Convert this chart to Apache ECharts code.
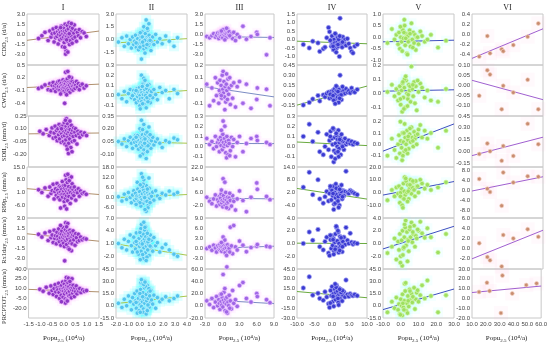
<!DOCTYPE html>
<html><head><meta charset="utf-8">
<script src="https://cdn.jsdelivr.net/npm/echarts@6/dist/echarts.min.js"></script>
<style>html,body{margin:0;padding:0;background:#fff}#c{width:550px;height:344px}</style>
</head><body><div id="c"></div>
<script>
// ---------------- DATA ----------------
const colNames = ['I','II','III','IV','V','VI'];
const rowNames = ['CDD','CWD','SDII','R99p','Rx1day','PRCPTOT'];
const rowUnits = ['(d/a)','(d/a)','(mm/d)','(mm/a)','(mm/a)','(mm/a)'];

// Column I
const I_x = [-1.02,-0.88,-0.75,-0.62,-0.55,-0.5,-0.45,-0.41,-0.37,-0.34,
 -0.31,-0.28,-0.25,-0.22,-0.2,-0.18,-0.15,-0.13,-0.11,-0.09,
 -0.07,-0.05,-0.03,-0.02,0.0,0.02,0.03,0.05,0.06,0.08,
 0.09,0.1,0.12,0.13,0.15,0.16,0.18,0.19,0.21,0.22,
 0.24,0.25,0.27,0.29,0.3,0.32,0.34,0.36,0.38,0.4,
 0.42,0.45,0.47,0.5,0.53,0.56,0.6,0.64,0.68,0.73,
 0.8,0.88,0.97,0.11,0.2,0.07,-0.1,0.35,0.15,0.26];
const I_CDD = [-0.6,-0.2,0.3,-0.9,0.5,-0.4,0.1,0.8,-1.1,0.2,
 -0.5,1.0,-0.3,0.4,-1.4,0.0,0.7,-0.8,0.3,-0.2,
 1.2,-0.6,0.5,-1.8,0.1,-0.4,0.9,-1.2,0.4,-0.1,
 1.5,-0.7,0.2,-2.4,0.6,-0.3,1.3,-1.0,0.0,0.8,
 -0.5,1.7,-1.5,0.3,-0.9,1.1,-0.2,0.5,-1.3,0.9,
 -0.6,0.2,1.4,-0.4,0.6,-1.0,0.3,-0.2,0.7,-0.5,
 0.4,0.2,-0.3,-2.9,-2.6,-1.9,1.0,1.6,-0.8,0.1];
const I_CWD = [-0.05,-0.02,0.03,-0.08,0.06,-0.1,0.02,0.09,-0.06,0.01,
 -0.12,0.05,-0.03,0.1,-0.07,0.0,0.12,-0.09,0.04,-0.01,
 0.07,-0.13,0.02,-0.05,0.15,-0.02,0.08,-0.11,0.03,0.11,
 -0.04,0.06,-0.15,0.13,0.0,-0.08,0.17,0.04,-0.06,0.09,
 -0.1,0.05,0.02,-0.14,0.1,-0.03,0.07,-0.07,0.12,0.01,
 -0.09,0.04,0.08,-0.05,0.03,0.11,-0.02,0.06,-0.08,0.02,
 0.05,-0.04,0.01,0.33,0.35,-0.4,-0.18,0.2,-0.2,0.22];
const I_SDII = [0.07,0.04,0.09,0.02,0.06,0.11,-0.01,0.05,0.13,0.0,
 0.08,-0.04,0.1,0.03,0.15,-0.02,0.06,0.12,-0.06,0.04,
 0.09,0.01,0.14,-0.05,0.07,0.17,0.02,-0.08,0.11,0.05,
 -0.03,0.13,0.08,-0.1,0.04,0.16,0.0,0.1,-0.07,0.06,
 0.12,-0.02,0.09,0.03,-0.12,0.14,0.05,-0.05,0.08,0.01,
 0.11,-0.04,0.06,0.1,0.02,-0.08,0.07,0.04,0.0,0.06,
 0.03,0.05,0.02,0.22,-0.19,0.2,0.1,-0.17,-0.14,0.19];
const I_R99p = [2.5,1.0,3.5,-1.0,4.0,0.5,2.0,5.5,-2.5,1.5,
 3.0,-0.5,6.0,2.2,-1.8,0.8,4.5,-3.0,1.2,3.8,
 -0.2,2.8,7.0,-1.5,0.3,4.8,1.8,-4.0,3.2,0.0,
 5.0,-2.2,2.5,8.0,-0.8,1.6,6.5,-3.5,3.0,0.6,
 4.2,-1.2,2.0,9.0,-5.0,1.0,3.6,-2.0,5.8,0.2,
 2.6,-0.6,4.0,1.4,-3.2,2.2,0.8,3.0,-1.0,1.8,
 0.5,1.0,0.0,10.5,11.0,-6.5,-7.5,9.5,-8.0,7.5];
const I_Rx1day = [0.6,0.2,0.8,-0.3,1.0,0.1,0.5,-0.6,1.2,0.0,
 0.4,-0.8,0.9,0.3,-0.2,1.4,-0.5,0.7,0.1,-1.0,
 0.6,1.1,-0.4,0.2,1.6,-0.7,0.5,0.0,-1.2,0.9,
 0.3,1.3,-0.3,0.7,-0.9,0.2,1.0,-0.1,0.6,-1.4,
 0.4,0.8,-0.6,1.2,0.0,-0.4,0.9,0.3,-0.8,0.5,
 1.1,-0.2,0.4,-1.0,0.7,0.1,-0.5,0.6,-0.3,0.2,
 -0.2,0.0,-0.1,2.3,2.2,-3.3,1.9,-1.8,1.7,-1.6];
const I_PRCPTOT = [9,6,12,3,14,7,1,10,16,5,
 -2,11,8,18,4,-5,13,9,0,15,
 7,20,-3,10,6,17,2,12,-6,8,
 22,5,14,-8,11,3,19,9,-1,13,
 6,24,0,10,16,-4,8,12,3,15,
 7,-2,11,5,14,2,9,6,10,4,
 8,6,7,27,26,-12,-10,25,-9,21];

// Column II
const II_x = [-1.8,-1.5,-1.3,-1.1,-0.95,-0.8,-0.7,-0.6,-0.5,-0.42,
 -0.35,-0.28,-0.22,-0.16,-0.1,-0.05,0.0,0.04,0.08,0.12,
 0.16,0.2,0.24,0.28,0.32,0.36,0.4,0.44,0.48,0.52,
 0.56,0.6,0.64,0.68,0.72,0.76,0.8,0.85,0.9,0.95,
 1.0,1.1,1.2,1.35,1.5,1.7,1.9,2.2,2.5,2.9,
 3.2,0.1,0.3,0.5,0.7,-0.2,0.02,0.22,0.42,0.62,
 0.15,0.35,0.55,0.78,-0.3,0.05,0.45,0.25,0.65,0.88];
const II_CDD = [-0.3,0.2,-0.8,0.4,-0.5,0.0,-1.0,0.3,-0.6,-0.2,
 0.5,-0.9,-0.4,0.1,-1.2,-0.3,0.6,-0.7,-0.1,0.3,
 -0.5,0.9,-0.8,-0.2,0.4,-1.1,0.0,-0.6,0.7,-0.3,
 -0.9,0.2,-0.5,1.1,-0.1,-0.7,0.5,-0.4,0.1,-1.3,
 -0.2,0.3,-0.6,0.6,-0.3,0.1,-0.5,0.4,-0.2,-0.8,
 0.2,-0.4,-0.7,0.0,-0.2,-0.5,-0.9,0.3,-0.1,-0.6,
 -2.3,1.5,2.3,1.85,-0.4,0.8,-1.6,-0.3,1.3,-0.1];
const II_CWD = [0.01,-0.03,0.04,-0.06,0.02,0.06,-0.02,0.0,0.05,-0.04,
 0.03,-0.07,0.07,-0.01,0.02,-0.05,0.08,0.0,-0.03,0.05,
 -0.06,0.03,0.09,-0.02,0.01,-0.08,0.04,0.06,-0.04,0.02,
 -0.01,0.07,-0.05,0.03,0.1,-0.03,0.0,0.05,-0.07,0.02,
 0.04,-0.02,0.06,0.01,-0.04,0.08,0.03,0.05,-0.03,0.06,
 0.02,-0.09,0.12,0.0,-0.06,0.04,-0.1,0.09,0.14,-0.02,
 0.2,0.17,-0.12,0.11,0.05,-0.13,0.15,-0.08,0.1,0.0];
const II_SDII = [0.05,0.02,0.08,-0.01,0.06,0.1,0.03,-0.03,0.07,0.04,
 0.12,0.0,0.05,0.09,-0.04,0.06,0.02,0.11,0.04,-0.02,
 0.08,0.05,0.13,0.01,0.07,-0.05,0.1,0.03,0.06,0.15,
 0.0,0.08,0.04,-0.06,0.11,0.05,0.02,0.09,0.07,-0.03,
 0.06,0.1,0.01,0.05,0.08,0.03,-0.02,0.06,0.04,0.09,
 0.07,0.18,-0.09,0.14,0.0,0.12,0.2,-0.1,0.03,0.16,
 0.3,0.25,-0.15,0.22,0.1,-0.12,0.08,0.19,-0.07,0.13];
const II_R99p = [0.5,-2.0,2.0,-1.0,3.0,0.0,-3.0,1.5,4.0,-1.5,
 2.5,-0.5,1.0,5.0,-2.5,0.8,3.5,-4.0,1.2,0.0,
 6.0,-1.2,2.2,-3.5,4.5,0.5,-0.8,3.0,-2.0,1.8,
 7.0,-1.0,0.3,2.8,-4.5,1.5,5.5,-0.3,2.0,-2.8,
 0.8,3.2,-1.5,4.0,1.0,-0.5,2.5,1.5,3.8,2.0,
 3.0,-5.0,8.0,0.2,-6.0,9.0,-3.0,6.5,0.0,-2.2,
 14.0,10.5,-8.0,11.5,-4.0,7.5,-7.0,12.0,5.0,-3.0];
const II_Rx1day = [1.0,0.0,2.0,-0.5,1.5,3.0,0.5,-1.0,2.5,1.2,
 -0.3,3.5,0.8,1.8,-1.5,2.2,0.3,4.0,1.0,-0.8,
 2.8,0.6,1.5,-2.0,3.2,0.0,2.0,1.3,-1.2,2.6,
 0.4,3.8,1.1,-0.5,2.3,0.7,-1.8,1.6,3.0,0.2,
 1.8,-0.8,2.4,0.5,1.2,-1.0,0.0,0.8,-0.5,-1.5,
 -2.0,4.5,-2.5,5.0,1.4,-1.0,3.6,0.9,4.2,-2.2,
 5.5,6.0,-3.0,2.0,1.5,-2.8,4.8,-1.6,3.4,0.4];
const II_PRCPTOT = [3,-2,8,0,12,5,-5,10,2,15,
 6,-3,18,4,9,-6,13,1,20,7,
 -1,11,5,16,-4,8,22,3,10,-7,
 14,6,25,0,9,17,-2,12,4,19,
 7,2,13,-3,10,5,8,11,6,9,
 12,28,-8,24,1,-9,15,27,30,-5,
 32,26,-10,21,4,-8,29,11,-6,18];

// Column III
const III_x = [-2.7,-2.2,-1.8,-1.5,-1.2,-1.0,-0.8,-0.6,-0.5,-0.4,
 -0.3,-0.2,-0.1,0.0,0.1,0.2,0.3,0.4,0.5,0.6,
 0.7,0.8,0.9,1.0,1.1,1.2,1.4,1.6,1.8,2.0,
 2.3,2.6,3.0,3.6,4.2,5.0,6.0,6.1,7.7,8.3,
 0.15,0.45,0.75,-0.15,1.3];
const III_CDD = [-0.3,-0.5,-0.2,0.1,-0.4,-0.1,0.2,-0.6,0.0,0.3,
 -0.3,0.4,-0.1,0.2,-0.5,0.6,0.0,0.3,-0.2,0.5,
 0.1,-0.4,0.8,0.2,-0.1,0.4,-0.3,0.1,-0.6,0.3,
 -0.9,0.0,-0.4,1.2,-0.7,-0.3,0.3,0.0,-3.0,-0.5,
 0.7,-0.8,0.9,0.5,-0.2];
const III_CWD = [0.05,-0.12,0.02,-0.08,0.1,-0.04,0.06,-0.1,0.0,0.08,
 -0.03,0.04,-0.06,0.12,0.01,-0.02,0.07,-0.05,0.03,-0.09,
 0.05,0.0,-0.07,0.09,-0.03,0.02,-0.11,0.04,-0.06,0.06,
 -0.13,0.03,0.07,-0.1,0.05,-0.14,-0.07,0.02,0.01,-0.12,
 0.15,-0.15,0.13,-0.04,0.1];
const III_SDII = [0.08,0.02,0.05,-0.02,0.1,0.0,0.04,0.07,-0.05,0.03,
 0.09,0.01,0.06,-0.03,0.12,0.04,0.0,0.08,0.02,-0.06,
 0.05,0.1,0.01,-0.08,0.06,0.03,-0.04,0.09,0.0,0.07,
 -0.1,0.04,0.1,-0.05,0.03,0.08,0.1,0.06,0.04,0.02,
 0.25,0.2,-0.11,0.16,-0.09];
const III_R99p = [3.0,0.5,-1.0,2.0,4.5,-2.5,1.5,0.0,3.5,-1.5,
 2.5,5.0,-0.5,1.0,-3.0,4.0,0.5,2.0,-2.0,6.0,
 1.5,-1.0,3.0,0.0,-4.0,2.5,1.0,-2.5,4.0,0.5,
 -5.0,2.0,7.0,1.0,-6.0,3.0,12.0,8.0,3.5,1.5,
 14.6,12.5,-3.5,7.5,5.5];
const III_Rx1day = [0.0,0.5,-0.5,1.0,0.2,-1.0,0.8,0.3,-0.3,1.2,
 0.0,0.6,-0.8,0.4,1.5,-0.2,0.9,0.1,-1.2,0.7,
 0.3,-5.4,1.1,-0.6,0.4,0.0,6.3,0.8,-1.5,6.8,
 0.5,-0.4,2.2,1.0,-0.9,0.3,0.7,1.2,0.7,0.5,
 3.4,2.5,-2.0,1.8,-1.0];
const III_PRCPTOT = [8,2,12,-3,6,15,0,10,4,-6,
 18,7,1,13,-2,9,22,5,-8,11,
 3,14,-12,6,0,17,8,-5,25,4,
 10,-1,33,38,12,6,20,15,10,5,
 51,28,-10,19,-4];

// Column IV
const IV_x = [-8.2,-6.5,-5.5,-4.0,-3.5,-2.5,-2.0,-1.5,-1.0,-0.7,
 -0.4,-0.2,0.0,0.2,0.4,0.6,0.8,1.0,1.1,1.3,
 1.5,1.6,1.8,2.0,2.1,2.3,2.5,2.7,2.9,3.1,
 3.4,3.7,4.0,4.4,4.8,5.2,5.6,6.0,6.5,7.2,
 0.5,1.2,1.9,2.6,0.9,-0.5,3.0,1.7,2.2,0.3];
const IV_CDD = [-0.3,-0.5,-0.1,-0.2,-0.7,-0.55,-0.45,0.1,0.7,0.45,
 -0.1,-0.4,0.2,-0.3,-0.6,0.0,-0.2,0.3,-0.35,-0.5,
 -0.15,0.1,-0.4,-0.25,-1.0,1.25,-0.3,-0.1,-0.45,0.15,
 -0.2,0.0,-0.35,0.05,-0.25,-0.5,-0.7,-0.8,-0.4,-0.3,
 -0.6,-0.75,0.0,-0.2,0.35,-0.05,-0.15,-0.3,0.2,-0.4];
const IV_CWD = [-0.14,-0.1,-0.05,0.0,-0.08,0.01,-0.02,0.03,0.05,-0.04,
 0.02,0.06,-0.03,0.04,0.08,0.0,0.1,-0.05,0.03,0.07,
 0.12,-0.02,0.05,0.09,0.0,0.3,0.04,-0.06,0.06,0.02,
 0.08,0.03,0.1,0.05,0.07,0.04,0.11,0.06,0.05,0.09,
 -0.07,0.14,-0.1,0.01,-0.12,0.02,0.13,0.06,-0.04,0.0];
const IV_SDII = [0.1,0.22,0.05,0.14,-0.05,-0.08,0.0,0.12,-0.03,0.06,
 0.15,-0.1,0.08,0.02,0.17,-0.04,0.09,0.03,-0.06,0.11,
 0.0,0.07,0.16,-0.02,0.04,0.09,-0.08,0.12,0.01,0.05,
 -0.03,0.08,0.02,0.04,0.06,0.03,0.05,0.02,0.04,0.03,
 -0.15,0.13,-0.1,0.06,-0.12,0.1,0.0,-0.05,0.07,0.18];
const IV_R99p = [4.5,11.5,1.0,8.0,-1.0,-3.0,0.0,2.5,-2.0,1.5,
 4.0,-1.5,3.0,0.5,5.0,-3.5,2.0,-0.5,6.0,1.0,
 -2.5,3.5,0.0,4.5,-4.0,2.0,1.0,5.5,-1.0,3.0,
 0.5,2.5,12.0,2.0,1.5,3.0,2.5,2.0,1.5,1.0,
 -6.0,4.0,-5.0,2.5,-3.0,5.0,0.0,-2.0,3.5,1.5];
const IV_Rx1day = [0.0,1.8,0.5,2.2,-0.5,-1.0,0.3,1.0,-1.5,-1.9,
 0.6,-0.8,1.2,-0.3,0.8,-1.2,0.2,1.5,-0.6,2.5,
 0.4,-1.0,1.8,0.0,-0.7,1.1,-0.4,0.7,-1.3,0.3,
 1.0,-0.2,2.5,0.5,0.0,1.6,0.2,-0.1,0.1,0.0,
 -1.7,2.7,-1.4,0.9,-0.9,1.3,-0.5,2.0,-1.1,0.6];
const IV_PRCPTOT = [16,33,5,8,0,-3,10,2,-8,-14,
 12,4,18,-5,7,1,14,-2,9,20,
 3,11,-6,6,15,0,8,13,-4,5,
 10,2,28,6,3,7,5,4,6,4,
 -12,17,-10,9,22,-7,12,0,14,3];

// Column V
const V_x = [-7.5,-5.0,-3.5,-2.5,-1.5,-1.0,-0.5,0.0,0.5,1.0,
 1.5,2.0,2.5,3.0,3.5,4.0,4.5,5.0,5.5,6.0,
 6.5,7.0,7.5,8.0,8.5,9.0,10.0,11.0,12.0,13.5,
 15.0,17.0,21.0,25.5,0.8,2.2,3.8,5.2,1.2,4.2,
 6.8,-0.2,9.5,2.8,1.8];
const V_CDD = [-0.25,0.35,-0.1,0.1,-0.3,0.2,-0.5,0.0,-0.2,0.4,
 -0.05,0.75,-0.35,0.15,-0.7,0.05,-0.15,0.3,-0.4,0.6,
 -0.1,0.2,-0.25,0.1,-0.55,0.0,-0.3,0.25,0.05,-0.2,
 -0.1,0.1,-0.45,-0.15,-0.6,0.5,-0.75,0.15,0.3,-0.2,
 -0.45,0.45,0.0,-0.05,0.2];
const V_CWD = [0.01,0.06,-0.02,0.03,-0.05,0.0,0.05,-0.08,0.02,0.07,
 -0.03,0.04,-0.1,0.09,0.0,-0.04,0.06,0.02,-0.06,0.19,
 0.03,-0.02,0.08,-0.07,0.05,-0.12,0.01,0.07,0.04,-0.03,
 0.02,-0.05,-0.06,0.03,-0.13,0.1,-0.09,0.05,0.08,-0.01,
 0.06,-0.04,0.09,0.12,-0.11];
const V_SDII = [-0.1,0.05,-0.05,-0.12,0.0,0.08,-0.08,0.03,-0.03,0.1,
 0.02,-0.06,0.06,0.0,0.12,0.04,-0.04,0.09,0.02,0.15,
 0.06,-0.02,0.11,0.05,0.08,0.0,0.13,0.17,0.06,0.12,
 0.05,0.1,-0.03,0.12,-0.14,0.18,-0.08,0.14,-0.1,0.07,
 0.03,0.2,0.09,-0.05,0.1];
const V_R99p = [-6,2,-3,4,-1,5,-8,0,3,-4,
 7,1,-2,9,0,6,-5,3,10,-1,
 4,8,2,-3,9,5,0,10,7,3,
 6,2,4,8,-10,12,-7,6,-12,1,
 9,-3,5,11,-5];
const V_Rx1day = [-1.5,-0.5,0.8,-2.5,0.3,-1.0,1.5,-2.0,0.5,2.0,
 -0.8,1.0,2.5,-0.3,1.8,0.6,-1.2,2.2,1.0,3.3,
 0.2,1.5,2.8,-0.5,1.2,0.8,2.0,3.4,1.6,0.9,
 2.4,1.0,-1.4,1.5,-3.5,3.0,-2.8,2.6,-1.8,0.4,
 1.8,-3.0,2.2,3.6,-0.6];
const V_PRCPTOT = [-8,5,-3,10,-5,2,-10,8,0,14,
 -2,6,18,-6,3,12,-1,20,7,15,
 4,10,22,-4,8,16,5,13,25,9,
 31,12,-8,13,-12,27,-9,18,3,6,
 11,-11,19,28,-5];

// Column VI
const VI_x = [15.1,20.8,22.7,30.9,32.0,39.1,49.2,56.7];
const VI_CDD = [-0.435,-0.033,-0.37,-0.29,-0.33,-0.21,-0.045,0.215];
const VI_CWD = [-0.051,0.074,0.053,-0.117,-0.002,-0.035,0.028,-0.117];
const VI_SDII = [-0.035,0.10,0.0,-0.12,0.068,-0.059,0.35,0.09];
const VI_R99p = [4.4,0.5,-0.8,-6.3,7.0,3.0,5.5,5.3];
const VI_Rx1day = [1.06,-1.65,-2.3,-3.5,2.67,2.0,3.8,2.3];
const VI_PRCPTOT = [6.6,16,7.6,-15,23.3,5,13.6,15.3];

// Trend lines [x0, y0, x1, y1] per row
const I_trend = [[-1.5,-0.87,1.5,0.49],[-1.5,-0.03,1.5,0.05],[-1.5,0.04,1.5,0.05],[-1.5,3.1,1.5,-0.1],[-1.5,0.68,1.5,-0.41],[-1.5,8.8,1.5,5.0]];
const II_trend = [[-2,-0.4,4,0.1],[-2,0.0,4,0.05],[-2,0.05,4,0.03],[-2,0.0,4,1.8],[-2,0.9,4,-1.75],[-2,2.7,4,11.8]];
const III_trend = [[-3,-0.3,9,-0.45],[-3,0.03,9,-0.05],[-3,0.03,9,0.03],[-3,2.5,9,2.0],[-3,0.0,9,0.7],[-3,10,9,3.5]];
const IV_trend = [[-10,-0.1,10,-0.25],[-10,-0.14,10,0.14],[-10,0.045,10,0.01],[-10,3.9,10,-1.1],[-10,0.05,10,0.0],[-10,10.5,10,1.0]];
const V_trend = [[-10,-0.2,30,-0.13],[-10,0.015,30,0.025],[-10,-0.06,30,0.18],[-10,-2,30,8.6],[-10,-0.85,30,2.7],[-10,-4.7,30,20.5]];
const VI_trend = [[10,-0.47,60,0.11],[10,0.025,60,-0.07],[10,-0.055,60,0.18],[10,-0.4,60,5.3],[10,-2.0,60,3.6],[10,6,60,12.6]];

// X axes [min, max, interval]
const I_xAxis = [-1.5,1.5,0.5];
const II_xAxis = [-2,4,1];
const III_xAxis = [-3,9,3];
const IV_xAxis = [-10,10,5];
const V_xAxis = [-10,30,10];
const VI_xAxis = [10,60,10];

// Y axes: ranges, tick labels, decimals
const I_yRange = [[-4.5,3],[-0.7,0.5],[-0.35,0.25],[-13,15],[-4.5,3],[-35,40]];
const I_yTicks = [[3,1.5,0,-1.5,-3],[0.5,0.2,-0.1,-0.4],[0.25,0.1,-0.05,-0.2],[15,8,1,-6],[3,1.5,0,-1.5,-3],[40,25,10,-5,-20]];
const I_yDec = [1,1,2,1,1,1];
const II_yRange = [[-3,3],[-0.2,0.3],[-0.25,0.35],[-12,18],[-5,7],[-15,45]];
const II_yTicks = [[3,1.5,0,-1.5],[0.3,0.2,0.1,0,-0.1],[0.35,0.2,0.05,-0.1],[18,12,6,0,-6],[7,4,1,-2],[45,30,15,0,-15]];
const II_yDec = [1,1,2,1,1,1];
const III_yRange = [[-4.5,3],[-0.2,0.2],[-0.2,0.3],[-10,22],[-6,9],[-20,60]];
const III_yTicks = [[3,1.5,0,-1.5,-3],[0.2,0.1,0,-0.1],[0.3,0.2,0.1,0,-0.1],[22,14,6,-2],[9,6,3,0,-3],[60,40,20,0,-20]];
const III_yDec = [1,1,1,1,1,1];
const IV_yRange = [[-1.5,1.5],[-0.3,0.45],[-0.2,0.3],[-10,14],[-4,4],[-30,45]];
const IV_yTicks = [[1.5,1,0.5,0,-0.5,-1],[0.45,0.3,0.15,0,-0.15],[0.3,0.2,0.1,0,-0.1],[14,8,2,-4],[4,2,0,-2],[45,30,15,0,-15,-30]];
const IV_yDec = [1,2,1,1,1,1];
const V_yRange = [[-1.2,1.0],[-0.16,0.2],[-0.2,0.25],[-20,20],[-4,4],[-15,45]];
const V_yTicks = [[1,0.5,0,-0.5,-1],[0.2,0.1,0,-0.1],[0.2,0.1,0,-0.1],[20,10,0,-10],[4,2,0,-2],[45,30,15,0,-15]];
const V_yDec = [1,1,1,1,1,1];
const VI_yRange = [[-0.6,0.4],[-0.15,0.1],[-0.2,0.45],[-11.2,9.2],[-4,6],[-20,30]];
const VI_yTicks = [[0.4,0.2,0,-0.2,-0.4],[0.1,0.05,0,-0.05,-0.1],[0.45,0.3,0.15,0,-0.15],[8,4,0,-4,-8],[6,4,2,0,-2],[30,20,10,0,-10,-20]];
const VI_yDec = [1,2,2,1,1,1];

// ---------------- BUILD ----------------
const cols = [
 {x:I_x, ys:[I_CDD,I_CWD,I_SDII,I_R99p,I_Rx1day,I_PRCPTOT], trend:I_trend, xa:I_xAxis, yr:I_yRange, yt:I_yTicks, yd:I_yDec,
  sty:{color:'#8e36c6', border:'#e8b4fa', size:4.5, line:'#b0906e', bg:'#ff66ff', bgOp:0.06, bgSize:9}},
 {x:II_x, ys:[II_CDD,II_CWD,II_SDII,II_R99p,II_Rx1day,II_PRCPTOT], trend:II_trend, xa:II_xAxis, yr:II_yRange, yt:II_yTicks, yd:II_yDec,
  sty:{color:'#52c4ee', border:'#c4f6ff', size:4.5, line:'#a8c850', bg:'#00ffff', bgOp:0.12, bgSize:10}},
 {x:III_x, ys:[III_CDD,III_CWD,III_SDII,III_R99p,III_Rx1day,III_PRCPTOT], trend:III_trend, xa:III_xAxis, yr:III_yRange, yt:III_yTicks, yd:III_yDec,
  sty:{color:'#a066e6', border:'#e8c8ff', size:4.5, line:'#7c8cc4', bg:'#ff80ff', bgOp:0.06, bgSize:9}},
 {x:IV_x, ys:[IV_CDD,IV_CWD,IV_SDII,IV_R99p,IV_Rx1day,IV_PRCPTOT], trend:IV_trend, xa:IV_xAxis, yr:IV_yRange, yt:IV_yTicks, yd:IV_yDec,
  sty:{color:'#3b3bd2', border:'#a8a8f4', size:4.5, line:'#6aaa40', bg:null}},
 {x:V_x, ys:[V_CDD,V_CWD,V_SDII,V_R99p,V_Rx1day,V_PRCPTOT], trend:V_trend, xa:V_xAxis, yr:V_yRange, yt:V_yTicks, yd:V_yDec,
  sty:{color:'#9ee060', border:'#d8f8b8', size:4.5, line:'#3f4fc0', bg:'#80ffff', bgOp:0.09, bgSize:10}},
 {x:VI_x, ys:[VI_CDD,VI_CWD,VI_SDII,VI_R99p,VI_Rx1day,VI_PRCPTOT], trend:VI_trend, xa:VI_xAxis, yr:VI_yRange, yt:VI_yTicks, yd:VI_yDec,
  sty:{color:'#c98c70', border:'#f0d0c0', size:4, line:'#a060d0', bg:'#ffb0d0', bgOp:0.07, bgSize:14}}
];

const colLeft = [27,116,205,297,383,472];
const colWidth = [72,71,69,70,71,71];
const rowTop0 = 14, rowH = 51;
const serif = 'Liberation Serif';
const sans = 'Liberation Sans';
const yNamePad = [[0,0,0,0],[0,0,0,0],[0,0,0,0],[0,0,0,0],[0,0,0,6],[0,6,0,0]];

const grids=[], xAxes=[], yAxes=[], series=[], graphics=[];
const nameRich = {
  a:{fontFamily:serif, fontSize:6.5, color:'#222', lineHeight:9},
  b:{fontFamily:serif, fontSize:4.5, color:'#222', lineHeight:5, verticalAlign:'bottom'}
};
const xNameRich = {
  a:{fontFamily:serif, fontSize:7, color:'#222', lineHeight:10},
  b:{fontFamily:serif, fontSize:5, color:'#222', lineHeight:5, verticalAlign:'bottom'}
};

cols.forEach((c, ci) => {
  graphics.push({type:'text', x: colLeft[ci] + colWidth[ci]/2, y: 4,
    style:{text: colNames[ci], textAlign:'center', font: '8px "'+serif+'"', fill:'#222'}});
  for (let ri=0; ri<6; ri++) {
    const gi = grids.length;
    const bottom = ri===5;
    grids.push({left: colLeft[ci], top: rowTop0 + ri*rowH, width: colWidth[ci], height: rowH,
      show:true, borderColor:'#c8c8c8', borderWidth:1, backgroundColor:'rgba(0,0,0,0)', containLabel:false});
    xAxes.push({gridIndex: gi, type:'value', min: c.xa[0], max: c.xa[1], interval: c.xa[2],
      axisLine:{show:false}, axisTick:{show:false}, splitLine:{show:false},
      axisLabel:{show: bottom, fontFamily: sans, fontSize:6, color:'#444', margin:3, formatter: v => v.toFixed(1)},
      name: bottom ? '{a|Popu}{b|2.5}{a| (10⁴/a)}' : '', nameLocation:'middle', nameGap:15,
      nameTextStyle:{rich: xNameRich}});
    const dec = c.yd[ri];
    yAxes.push({gridIndex: gi, type:'value', min: c.yr[ri][0], max: c.yr[ri][1],
      axisLine:{show:false}, axisTick:{show:false}, splitLine:{show:false},
      axisLabel:{customValues: c.yt[ri], fontFamily: sans, fontSize:6, color:'#444', margin:2, formatter: v => v.toFixed(dec)},
      name: ci===0 ? '{a|'+rowNames[ri]+'}{b|2.5}{a| '+rowUnits[ri]+'}' : '',
      nameLocation:'middle', nameGap:18, nameRotate:90, nameTextStyle:{rich: nameRich, padding: yNamePad[ri]}});
    const data = c.x.map((x,i)=>[x, c.ys[ri][i]]);
    if (c.sty.bg) {
      series.push({type:'scatter', xAxisIndex:gi, yAxisIndex:gi, data, symbol:'rect', symbolSize:c.sty.bgSize,
        itemStyle:{color:c.sty.bg, opacity:c.sty.bgOp}, silent:true, z:1});
    }
    const t = c.trend[ri];
    series.push({type:'line', xAxisIndex:gi, yAxisIndex:gi, data:[[t[0],t[1]],[t[2],t[3]]], symbol:'none',
      lineStyle:{color:c.sty.line, width:1}, silent:true, z:2});
    series.push({type:'scatter', xAxisIndex:gi, yAxisIndex:gi, data, symbol:'circle', symbolSize:c.sty.size,
      itemStyle:{color:c.sty.color, borderColor:c.sty.border, borderWidth:0.7, opacity:1}, z:3});
  }
});

const chart = echarts.init(document.getElementById('c'), null, {renderer:'canvas'});
chart.setOption({animation:false, backgroundColor:'#fff', grid:grids, xAxis:xAxes, yAxis:yAxes, series, graphic:graphics});
</script></body></html>
